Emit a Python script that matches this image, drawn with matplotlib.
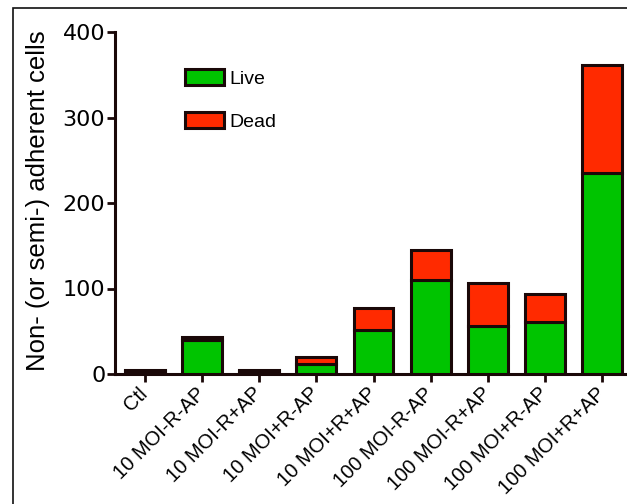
import matplotlib
matplotlib.use("Agg")
import matplotlib.pyplot as plt
from matplotlib.patches import Rectangle
from matplotlib.transforms import ScaledTranslation
import numpy as np

plt.rcParams['font.family'] = ['Liberation Sans', 'DejaVu Sans']

categories = ["Ctl", "10 MOI-R-AP", "10 MOI-R+AP", "10 MOI+R-AP", "10 MOI+R+AP",
              "100 MOI-R-AP", "100 MOI-R+AP", "100 MOI+R-AP", "100 MOI+R+AP"]
live = [3, 40, 4, 12, 52, 110, 56, 61, 235]
dead = [2, 3, 1, 8, 25, 35, 51, 32, 126]
y_ticks = [0, 100, 200, 300, 400]

GREEN = "#00c400"
RED = "#ff2a00"
EDGE = "#1a0808"

W, H = 627, 504
fig = plt.figure(figsize=(W / 100, H / 100), dpi=100)

# axes placed in pixel terms; right end runs slightly past the canvas
ax_l, ax_r, ax_b, ax_t = 115, 632, 374, 32
ax = fig.add_axes([ax_l / W, 1 - ax_b / H, (ax_r - ax_l) / W, (ax_b - ax_t) / H])

x = np.arange(len(categories))
ax.bar(x, live, width=0.7, color=GREEN, edgecolor=EDGE, linewidth=2.2, label="Live", zorder=3)
ax.bar(x, dead, width=0.7, bottom=live, color=RED, edgecolor=EDGE, linewidth=2.2, label="Dead", zorder=3)

ax.set_xlim(-0.525, len(categories) - 0.475)
ax.set_ylim(0, 400)
ax.set_yticks(y_ticks)
ax.set_yticklabels([str(v) for v in y_ticks], family=["DejaVu Sans"], fontsize=16)
ax.set_xticks(x)
ax.set_xticklabels(categories, rotation=45, ha="right", va="center",
                   rotation_mode="anchor", fontsize=14.5)
for lbl in ax.get_xticklabels():
    lbl.set_transform(lbl.get_transform() + ScaledTranslation(3 / 100, 0, fig.dpi_scale_trans))
ax.tick_params(axis="y", length=6, width=2, color=EDGE, direction="out", pad=1)
ax.tick_params(axis="x", length=6, width=2, color=EDGE, direction="out", pad=6)

for s in ("top", "right"):
    ax.spines[s].set_visible(False)
for s in ("left", "bottom"):
    ax.spines[s].set_linewidth(2.2)
    ax.spines[s].set_color(EDGE)

ax.set_ylabel("Non- (or semi-) adherent cells", fontsize=18.5)
ax.yaxis.set_label_coords(-0.126, 0.506)

leg = ax.legend(loc="upper left", bbox_to_anchor=(0.135, 0.892), frameon=False,
                fontsize=14, handlelength=2.0, handleheight=0.9,
                handletextpad=0.3, labelspacing=1.25, borderpad=0, borderaxespad=0)

# outer frame around the figure
fig.patches.append(Rectangle((13 / W, -0.1), 1.2, 1.1 - 8.5 / H,
                             transform=fig.transFigure, fill=False,
                             edgecolor="#111111", linewidth=1.2))

fig.savefig("out.png", dpi=100)
